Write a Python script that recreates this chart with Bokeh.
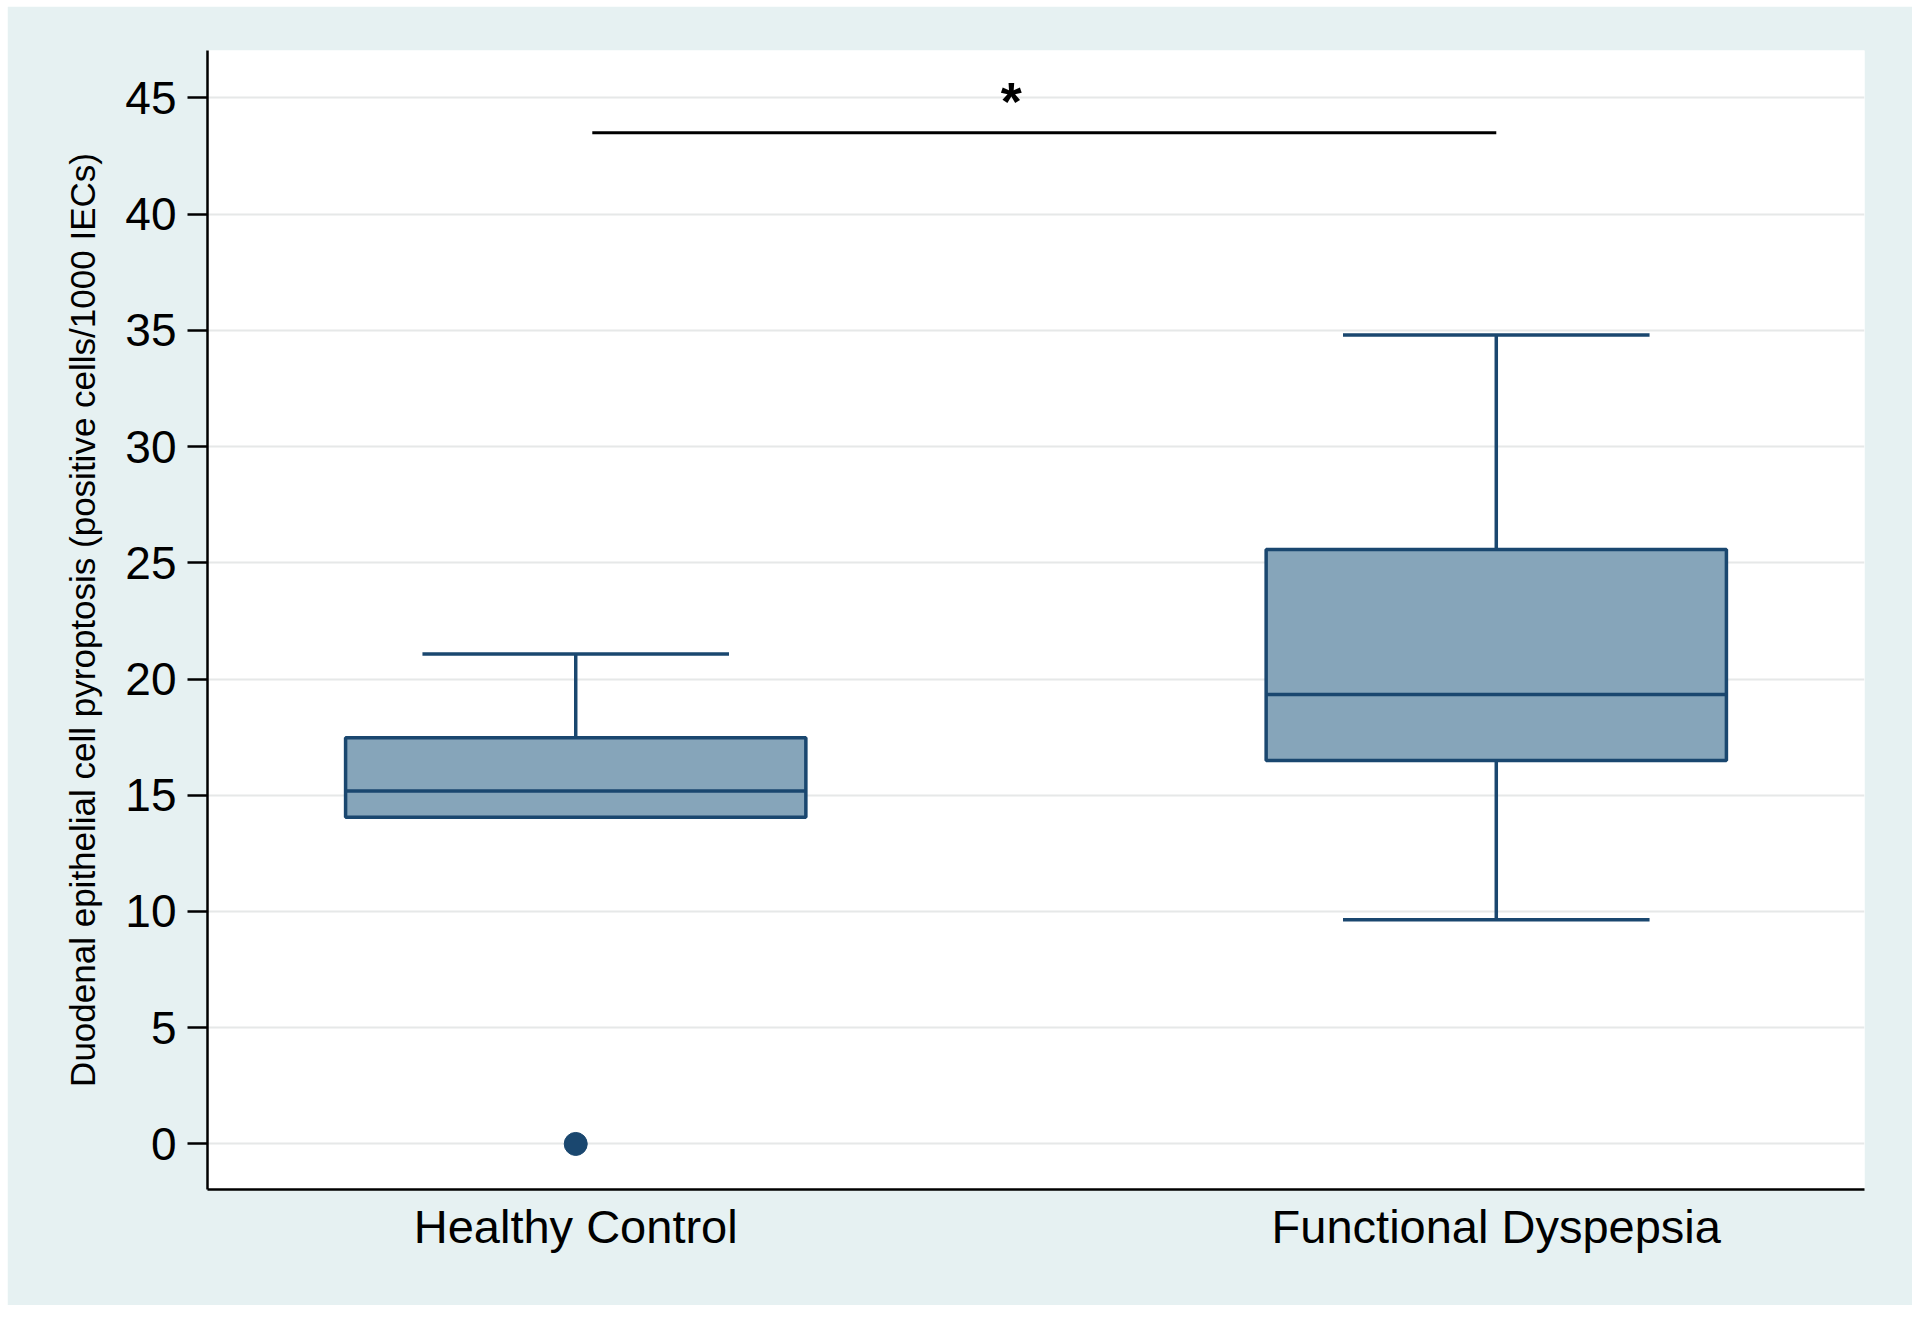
from bokeh.plotting import figure
from bokeh.models import Range1d, FixedTicker
from bokeh.core.properties import value
from bokeh.embed import file_html
from bokeh.resources import INLINE

# ---- data ----
groups = ["Healthy Control", "Functional Dyspepsia"]
positions = [1, 2]
q1 = [14.05, 16.50]
median = [15.18, 19.33]
q3 = [17.47, 25.57]
lower_whisker = [14.05, 9.64]
upper_whisker = [21.08, 34.80]
outlier_pos = [1]
outlier_val = [0.0]
y_ticks = [0, 5, 10, 15, 20, 25, 30, 35, 40, 45]
sig_x = [1.018, 2.0]
sig_y = 43.5
star_x = [1.473]
star_y = [44.85]
star_text = ["*"]

NAVY = "#1a476f"
FILL = "#86a5ba"
BG = "#e6f1f2"
FONT = "Liberation Sans"

p = figure(width=1905, height=1299, output_backend="svg", toolbar_location=None,
           x_range=Range1d(0.6, 2.4), y_range=Range1d(-1.96, 47.04),
           min_border_left=200, min_border_right=48, min_border_top=44, min_border_bottom=116)
p.margin = (6, 0, 0, 7)
p.background_fill_color = "white"
p.border_fill_color = BG
p.outline_line_color = None

box_w = 0.5
cap_w = 0.333
LW = 3.5

# whiskers
p.segment(x0=positions, y0=q3, x1=positions, y1=upper_whisker, line_color=NAVY, line_width=LW)
p.segment(x0=positions, y0=lower_whisker, x1=positions, y1=q1, line_color=NAVY, line_width=LW)
# caps
p.segment(x0=[x - cap_w / 2 for x in positions], y0=upper_whisker,
          x1=[x + cap_w / 2 for x in positions], y1=upper_whisker, line_color=NAVY, line_width=LW)
fd_low = [(x, lw) for x, lw, a in zip(positions, lower_whisker, q1) if lw < a]
p.segment(x0=[x - cap_w / 2 for x, _ in fd_low], y0=[lw for _, lw in fd_low],
          x1=[x + cap_w / 2 for x, _ in fd_low], y1=[lw for _, lw in fd_low], line_color=NAVY, line_width=LW)
# boxes
p.vbar(x=positions, width=box_w, bottom=q1, top=q3, fill_color=FILL, line_color=NAVY, line_width=LW)
# medians
p.segment(x0=[x - box_w / 2 for x in positions], y0=median,
          x1=[x + box_w / 2 for x in positions], y1=median, line_color=NAVY, line_width=LW)
# outlier
p.scatter(x=outlier_pos, y=outlier_val, size=23, fill_color=NAVY, line_color=NAVY)

# significance bar
p.segment(x0=[sig_x[0]], y0=[sig_y], x1=[sig_x[1]], y1=[sig_y], line_color="black", line_width=3)
p.text(x=star_x, y=star_y, text=star_text, text_font=value(FONT), text_font_size="54px",
       text_align="center", text_baseline="alphabetic", text_color="black",
       text_font_style="bold")

# axes
p.xaxis.ticker = FixedTicker(ticks=positions)
p.xaxis.major_label_overrides = {pos: g for pos, g in zip(positions, groups)}
p.xaxis.major_tick_out = 0
p.xaxis.major_tick_in = 0
p.xaxis.minor_tick_line_color = None
p.xaxis.major_label_text_font = FONT
p.xaxis.major_label_text_font_size = "47px"
p.xaxis.major_label_text_color = "black"
p.xaxis.major_label_standoff = 10
p.xaxis.axis_line_color = "black"
p.xaxis.axis_line_width = 2.5

p.yaxis.ticker = FixedTicker(ticks=y_ticks)
p.yaxis.major_tick_out = 20
p.yaxis.major_tick_in = 0
p.yaxis.major_tick_line_width = 2.5
p.yaxis.major_tick_line_color = "black"
p.yaxis.minor_tick_line_color = None
p.yaxis.major_label_text_font = FONT
p.yaxis.major_label_text_font_size = "46px"
p.yaxis.major_label_text_color = "black"
p.yaxis.major_label_standoff = 11
p.yaxis.axis_line_color = "black"
p.yaxis.axis_line_width = 2.5
p.yaxis.axis_label = "Duodenal epithelial cell pyroptosis (positive cells/1000 IECs)"
p.yaxis.axis_label_text_font = FONT
p.yaxis.axis_label_text_font_size = "35px"
p.yaxis.axis_label_text_font_style = "normal"
p.yaxis.axis_label_text_color = "black"
p.yaxis.axis_label_standoff = 20

p.xgrid.grid_line_color = None
p.ygrid.grid_line_color = "#e6e8e8"
p.ygrid.grid_line_width = 2

open("out.html", "w").write(file_html(p, INLINE))
